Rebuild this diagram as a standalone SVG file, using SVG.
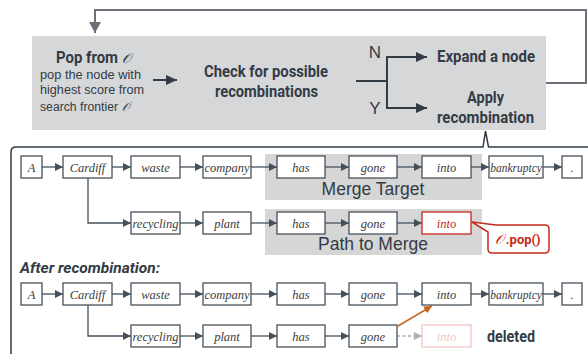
<svg xmlns="http://www.w3.org/2000/svg" width="588" height="354" viewBox="0 0 588 354">
<style>
.bold{font-family:Roboto,"Liberation Sans",sans-serif;font-weight:bold;fill:#333b45}
.reg{font-family:"Liberation Sans",Arial,sans-serif;fill:#333b45}
.cal{font-family:"DejaVu Serif","Noto Sans",serif;font-style:italic;font-weight:normal}
.node rect{fill:#fff;stroke:#45505a;stroke-width:1.3}
.node text{font-family:"Liberation Serif","Times New Roman",serif;font-style:italic;font-size:12.5px;fill:#3c3c3c;text-anchor:middle}
.conn line,.conn path{fill:none;stroke:#45505a;stroke-width:1.3}
.gray{fill:#d6d6d6}
.lab{font-family:"Liberation Sans",Arial,sans-serif;font-size:17.5px;fill:#333b45;text-anchor:middle}
</style>
<defs>
<marker id="ah" markerUnits="userSpaceOnUse" markerWidth="9" markerHeight="8" refX="8" refY="4" orient="auto"><path d="M0,0 L8,4 L0,8 Z" fill="#45505a"/></marker>
<marker id="ahb" markerUnits="userSpaceOnUse" markerWidth="12" markerHeight="10" refX="11" refY="5" orient="auto"><path d="M0,0 L11,5 L0,10 Z" fill="#333b45"/></marker>
<marker id="ahg" markerUnits="userSpaceOnUse" markerWidth="12" markerHeight="12" refX="11" refY="6" orient="auto"><path d="M0,0 L11,6 L0,12 Z" fill="#6b7078"/></marker>
<marker id="ahd" markerUnits="userSpaceOnUse" markerWidth="9" markerHeight="8" refX="8" refY="4" orient="auto"><path d="M0,0 L8,4 L0,8 Z" fill="#b0b0b0"/></marker>
<marker id="aho" markerUnits="userSpaceOnUse" markerWidth="9" markerHeight="8" refX="8" refY="4" orient="auto"><path d="M0,0 L8,4 L0,8 Z" fill="#c8661e"/></marker>
</defs>

<!-- top process box -->
<rect x="32" y="36" width="514" height="94" fill="#d6d7d9"/>
<g id="loop" class="conn">
<path d="M546,83 H586 V10 H95 V33" style="stroke:#6b7078;stroke-width:2" marker-end="url(#ahg)"/>
</g>
<g id="pop">
<text x="56" y="63" class="bold" font-size="16" textLength="62" lengthAdjust="spacingAndGlyphs">Pop from</text>
<text x="122" y="63" class="cal" font-size="14" fill="#333b45">𝒪</text>
<text x="40" y="79" class="reg" font-size="12" textLength="101" lengthAdjust="spacingAndGlyphs">pop the node with</text>
<text x="40" y="94" class="reg" font-size="12" textLength="104" lengthAdjust="spacingAndGlyphs">highest score from</text>
<text x="40" y="111" class="reg" font-size="12" textLength="78" lengthAdjust="spacingAndGlyphs">search frontier</text>
<text x="122" y="111" class="cal" font-size="12" fill="#333b45">𝒪</text>
</g>
<g id="check">
<text x="204" y="77" class="bold" font-size="16" textLength="124" lengthAdjust="spacingAndGlyphs">Check for possible</text>
<text x="215" y="97" class="bold" font-size="16" textLength="103" lengthAdjust="spacingAndGlyphs">recombinations</text>
</g>
<g id="expand">
<text x="437" y="62" class="bold" font-size="16" textLength="98" lengthAdjust="spacingAndGlyphs">Expand a node</text>
</g>
<g id="apply">
<text x="467" y="103" class="bold" font-size="16" textLength="37" lengthAdjust="spacingAndGlyphs">Apply</text>
<text x="437" y="123" class="bold" font-size="16" textLength="97" lengthAdjust="spacingAndGlyphs">recombination</text>
</g>
<g id="top-connectors" class="conn">
<line x1="153" y1="80" x2="177" y2="80" style="stroke:#333b45;stroke-width:2" marker-end="url(#ahb)"/>
<path d="M356,81 H387 M387,57 V108" style="stroke:#333b45;stroke-width:2"/>
<line x1="386" y1="57" x2="427" y2="57" style="stroke:#333b45;stroke-width:2" marker-end="url(#ahb)"/>
<line x1="386" y1="108" x2="427" y2="108" style="stroke:#333b45;stroke-width:2" marker-end="url(#ahb)"/>
<text x="375" y="58" class="reg" font-size="17" text-anchor="middle" style="stroke:none">N</text>
<text x="375" y="114" class="reg" font-size="17" text-anchor="middle" style="stroke:none">Y</text>
</g>

<!-- frame -->
<path d="M600,147 H488.5 L485.5,131 L483,147 H16 Q11,147 11,152 V360" fill="none" stroke="#2f3a44" stroke-width="1.5"/>

<!-- highlight areas -->
<rect class="gray" x="265" y="154" width="217" height="46"/>
<text class="lab" x="373" y="195">Merge Target</text>
<rect class="gray" x="265" y="209" width="217" height="46"/>
<text class="lab" x="373" y="250">Path to Merge</text>

<text x="20" y="273" font-family="Roboto,'Liberation Sans',sans-serif" font-weight="bold" font-style="italic" font-size="15.5" fill="#333b45">After recombination:</text>

<!-- connectors -->
<g id="connectors" class="conn">
<!-- row1 -->
<line x1="42" y1="167" x2="63" y2="167" marker-end="url(#ah)"/>
<line x1="112" y1="167" x2="131" y2="167" marker-end="url(#ah)"/>
<line x1="180" y1="167" x2="203" y2="167" marker-end="url(#ah)"/>
<line x1="251" y1="167" x2="277" y2="167" marker-end="url(#ah)"/>
<line x1="325" y1="167" x2="349" y2="167" marker-end="url(#ah)"/>
<line x1="397" y1="167" x2="422" y2="167" marker-end="url(#ah)"/>
<line x1="471" y1="167" x2="489" y2="167" marker-end="url(#ah)"/>
<line x1="543" y1="167" x2="562" y2="167" marker-end="url(#ah)"/>
<!-- row2 -->
<path d="M88,178 V223 H131" marker-end="url(#ah)"/>
<line x1="180" y1="223" x2="203" y2="223" marker-end="url(#ah)"/>
<line x1="251" y1="223" x2="277" y2="223" marker-end="url(#ah)"/>
<line x1="325" y1="223" x2="349" y2="223" marker-end="url(#ah)"/>
<line x1="397" y1="223" x2="422" y2="223" marker-end="url(#ah)"/>
<!-- row3 -->
<line x1="42" y1="294" x2="63" y2="294" marker-end="url(#ah)"/>
<line x1="112" y1="294" x2="131" y2="294" marker-end="url(#ah)"/>
<line x1="180" y1="294" x2="203" y2="294" marker-end="url(#ah)"/>
<line x1="251" y1="294" x2="277" y2="294" marker-end="url(#ah)"/>
<line x1="325" y1="294" x2="349" y2="294" marker-end="url(#ah)"/>
<line x1="397" y1="294" x2="422" y2="294" marker-end="url(#ah)"/>
<line x1="471" y1="294" x2="489" y2="294" marker-end="url(#ah)"/>
<line x1="543" y1="294" x2="562" y2="294" marker-end="url(#ah)"/>
<!-- row4 -->
<path d="M88,305 V336 H131" marker-end="url(#ah)"/>
<line x1="180" y1="336" x2="203" y2="336" marker-end="url(#ah)"/>
<line x1="251" y1="336" x2="277" y2="336" marker-end="url(#ah)"/>
<line x1="325" y1="336" x2="349" y2="336" marker-end="url(#ah)"/>
<line x1="397" y1="336" x2="422" y2="336" style="stroke:#b0b0b0;stroke-dasharray:3,2.5" marker-end="url(#ahd)"/>
<line x1="398" y1="326" x2="432" y2="306" style="stroke:#c8661e;stroke-width:1.5" marker-end="url(#aho)"/>
</g>

<!-- row 1 nodes -->
<g id="r1-A" class="node"><rect x="21" y="156" width="21" height="22"/><text x="31.5" y="171.5">A</text></g>
<g id="r1-Cardiff" class="node"><rect x="63" y="156" width="49" height="22"/><text x="87.5" y="171.5">Cardiff</text></g>
<g id="r1-waste" class="node"><rect x="131" y="156" width="49" height="22"/><text x="155.5" y="171.5">waste</text></g>
<g id="r1-company" class="node"><rect x="203" y="156" width="48" height="22"/><text x="227" y="171.5">company</text></g>
<g id="r1-has" class="node"><rect x="277" y="156" width="48" height="22"/><text x="301" y="171.5">has</text></g>
<g id="r1-gone" class="node"><rect x="349" y="156" width="48" height="22"/><text x="373" y="171.5">gone</text></g>
<g id="r1-into" class="node"><rect x="422" y="156" width="49" height="22"/><text x="446.5" y="171.5">into</text></g>
<g id="r1-bankruptcy" class="node"><rect x="489" y="156" width="54" height="22"/><text x="516" y="171.5" style="font-size:11.5px">bankruptcy</text></g>
<g id="r1-dot" class="node"><rect x="562" y="156" width="20" height="22"/><text x="572" y="171.5">.</text></g>

<!-- row 2 nodes -->
<g id="r2-recycling" class="node"><rect x="131" y="212" width="49" height="22"/><text x="155.5" y="227.5">recycling</text></g>
<g id="r2-plant" class="node"><rect x="203" y="212" width="48" height="22"/><text x="227" y="227.5">plant</text></g>
<g id="r2-has" class="node"><rect x="277" y="212" width="48" height="22"/><text x="301" y="227.5">has</text></g>
<g id="r2-gone" class="node"><rect x="349" y="212" width="48" height="22"/><text x="373" y="227.5">gone</text></g>
<g id="r2-into" class="node"><rect x="422" y="212" width="49" height="22" style="stroke:#c42a1c"/><text x="446.5" y="227.5" style="fill:#c42a1c">into</text></g>

<!-- callout -->
<g id="callout">
<path d="M496,225 H545 Q549,225 549,229 V249 Q549,253 545,253 H492 Q488,253 488,249 V232 L472,222 Z" fill="#fff" stroke="#c42a1c" stroke-width="1.5" stroke-linejoin="round"/>
<text x="518" y="244" text-anchor="middle" font-size="13" fill="#c42a1c"><tspan class="cal" font-size="14">𝒪</tspan><tspan dx="1.5" font-family="Roboto,'Liberation Sans',sans-serif" font-weight="bold">.pop()</tspan></text>
</g>

<!-- row 3 nodes -->
<g id="r3-A" class="node"><rect x="21" y="283" width="21" height="22"/><text x="31.5" y="298.5">A</text></g>
<g id="r3-Cardiff" class="node"><rect x="63" y="283" width="49" height="22"/><text x="87.5" y="298.5">Cardiff</text></g>
<g id="r3-waste" class="node"><rect x="131" y="283" width="49" height="22"/><text x="155.5" y="298.5">waste</text></g>
<g id="r3-company" class="node"><rect x="203" y="283" width="48" height="22"/><text x="227" y="298.5">company</text></g>
<g id="r3-has" class="node"><rect x="277" y="283" width="48" height="22"/><text x="301" y="298.5">has</text></g>
<g id="r3-gone" class="node"><rect x="349" y="283" width="48" height="22"/><text x="373" y="298.5">gone</text></g>
<g id="r3-into" class="node"><rect x="422" y="283" width="49" height="22"/><text x="446.5" y="298.5">into</text></g>
<g id="r3-bankruptcy" class="node"><rect x="489" y="283" width="54" height="22"/><text x="516" y="298.5" style="font-size:11.5px">bankruptcy</text></g>
<g id="r3-dot" class="node"><rect x="562" y="283" width="20" height="22"/><text x="572" y="298.5">.</text></g>

<!-- row 4 nodes -->
<g id="r4-recycling" class="node"><rect x="131" y="325" width="49" height="22"/><text x="155.5" y="340.5">recycling</text></g>
<g id="r4-plant" class="node"><rect x="203" y="325" width="48" height="22"/><text x="227" y="340.5">plant</text></g>
<g id="r4-has" class="node"><rect x="277" y="325" width="48" height="22"/><text x="301" y="340.5">has</text></g>
<g id="r4-gone" class="node"><rect x="349" y="325" width="48" height="22"/><text x="373" y="340.5">gone</text></g>
<g id="r4-into" class="node"><rect x="422" y="325" width="49" height="22" style="stroke:#f2c6bf"/><text x="446.5" y="340.5" style="fill:#f2c6bf">into</text></g>
<g id="deleted"><text x="487" y="342" class="bold" font-size="16" textLength="48" lengthAdjust="spacingAndGlyphs">deleted</text></g>
</svg>
